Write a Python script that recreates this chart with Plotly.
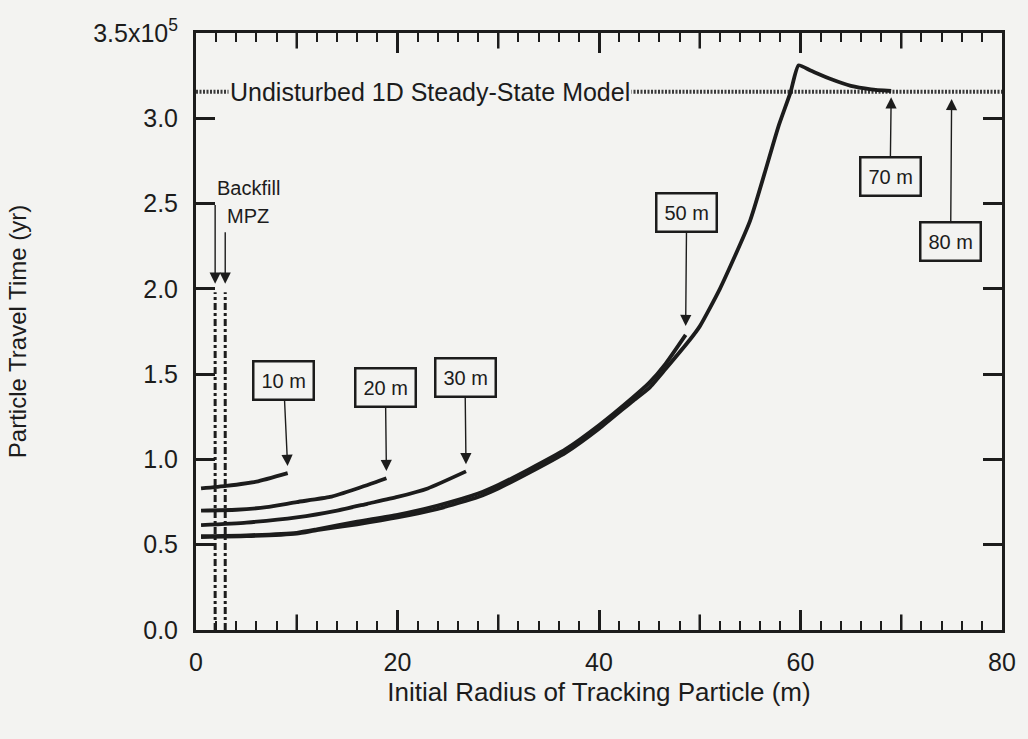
import plotly.graph_objects as go

# ---------------- data (travel time in units of 1e5 yr) ----------------
x_10m = [0.5, 3, 6, 9.1]
y_10m = [0.83, 0.845, 0.87, 0.92]

x_20m = [0.5, 4, 7, 10, 13.3, 16, 18.9]
y_20m = [0.70, 0.705, 0.72, 0.75, 0.78, 0.83, 0.89]

x_30m = [0.5, 5, 10, 14, 17, 20, 23, 26.8]
y_30m = [0.615, 0.63, 0.66, 0.70, 0.74, 0.78, 0.83, 0.93]

x_50m = [0.5, 5, 10, 12, 16, 20, 24, 28, 30, 33, 36.7, 40, 43.3, 45, 46.6, 48.6]
y_50m = [0.55, 0.555, 0.57, 0.59, 0.635, 0.675, 0.73, 0.80, 0.85, 0.94, 1.06,
         1.20, 1.36, 1.45, 1.56, 1.73]

x_70m = [0.5, 5, 10, 12, 16, 20, 24, 28, 30, 33, 36.7, 40, 43.3, 45, 46.6, 49,
         50, 52, 55, 57.8, 59, 59.8, 61, 63, 65, 67, 69]
y_70m = [0.545, 0.55, 0.565, 0.585, 0.62, 0.66, 0.71, 0.78, 0.83, 0.92, 1.04,
         1.18, 1.34, 1.42, 1.53, 1.70, 1.78, 2.0, 2.40, 2.95, 3.15, 3.31, 3.28,
         3.23, 3.19, 3.17, 3.16]

undisturbed_x = [0, 80]
undisturbed_y = 3.155

backfill_x = 1.9
mpz_x = 2.9
zone_top = 1.98
backfill_arrow_top = 2.5
mpz_arrow_top = 2.34
arrow_tip = 2.03

y_tickvals = [0, 0.5, 1.0, 1.5, 2.0, 2.5, 3.0, 3.5]
y_ticktext = ["0.0", "0.5", "1.0", "1.5", "2.0", "2.5", "3.0", "3.5x10<sup>5</sup>"]
x_tickvals = [0, 20, 40, 60, 80]
x_ticktext = ["0", "20", "40", "60", "80"]

# ---------------- style ----------------
INK = "#1c1c1c"
BG = "#f3f3f1"
FONT = "Liberation Sans, Arial, sans-serif"

fig = go.Figure()

# zone boundaries (dash-dot verticals)
for xv in (backfill_x, mpz_x):
    fig.add_trace(go.Scatter(x=[xv, xv], y=[0, zone_top], mode="lines",
                             line=dict(color=INK, width=3, dash="7px,3px,3px,3px"),
                             hoverinfo="skip", showlegend=False))

# undisturbed model line
fig.add_trace(go.Scatter(x=undisturbed_x, y=[undisturbed_y] * 2, mode="lines",
                         line=dict(color="#3a3a3a", width=4, dash="2px,1.5px"),
                         showlegend=False))

curves = [(x_10m, y_10m), (x_20m, y_20m), (x_30m, y_30m), (x_50m, y_50m), (x_70m, y_70m)]
for xs, ys in curves:
    fig.add_trace(go.Scatter(x=xs, y=ys, mode="lines",
                             line=dict(color=INK, width=3.8, shape="spline", smoothing=0.5),
                             showlegend=False))

annotations = []

def boxed(label, tipx, tipy, boxx, boxy):
    annotations.append(dict(
        x=tipx, y=tipy, xref="x", yref="y", ax=boxx, ay=boxy, axref="x", ayref="y",
        text=label, showarrow=True, arrowhead=2, arrowsize=1.6, arrowwidth=1.4,
        arrowcolor=INK, standoff=2,
        font=dict(family=FONT, size=20, color=INK),
        bordercolor=INK, borderwidth=2.5, borderpad=7, bgcolor=BG))

boxed("10 m", x_10m[-1], y_10m[-1] + 0.03, 8.7, 1.46)
boxed("20 m", x_20m[-1], y_20m[-1] + 0.03, 18.8, 1.42)
boxed("30 m", x_30m[-1], y_30m[-1] + 0.03, 26.7, 1.48)
boxed("50 m", x_50m[-1], y_50m[-1] + 0.04, 48.7, 2.45)
boxed("70 m", x_70m[-1], undisturbed_y - 0.02, 68.9, 2.66)
boxed("80 m", 75, undisturbed_y - 0.03, 74.9, 2.28)

# Backfill / MPZ arrows
for xv, top in ((backfill_x, backfill_arrow_top), (mpz_x, mpz_arrow_top)):
    annotations.append(dict(x=xv, y=arrow_tip, ax=xv, ay=top,
                            xref="x", yref="y", axref="x", ayref="y", text="",
                            showarrow=True, arrowhead=2, arrowsize=1.6, arrowwidth=1.4,
                            arrowcolor=INK))

annotations.append(dict(x=backfill_x, y=2.59, xref="x", yref="y", text="Backfill",
                        showarrow=False, xanchor="left", yanchor="middle",
                        font=dict(family=FONT, size=20, color=INK)))
annotations.append(dict(x=mpz_x, y=2.43, xref="x", yref="y", text="MPZ",
                        showarrow=False, xanchor="left", yanchor="middle",
                        font=dict(family=FONT, size=20, color=INK)))

# undisturbed label
annotations.append(dict(x=3.2, y=undisturbed_y, xref="x", yref="y",
                        text="Undisturbed 1D Steady-State Model", showarrow=False,
                        xanchor="left", yanchor="middle", bgcolor=BG, borderpad=1,
                        font=dict(family=FONT, size=25, color=INK)))

# medium ticks at odd multiples of 10 (bottom and top)
shapes = []
for xv in (10, 30, 50, 70):
    shapes.append(dict(type="line", xref="x", yref="y domain", x0=xv, x1=xv, y0=0, y1=0.026,
                       line=dict(color=INK, width=2.5)))
    shapes.append(dict(type="line", xref="x", yref="y domain", x0=xv, x1=xv, y0=1, y1=0.974,
                       line=dict(color=INK, width=2.5)))

fig.update_layout(
    width=1028, height=739, autosize=False,
    margin=dict(l=196, r=23, t=33, b=109),
    paper_bgcolor=BG, plot_bgcolor=BG,
    font=dict(family=FONT, size=25, color=INK),
    annotations=annotations, shapes=shapes, showlegend=False,
)
fig.update_xaxes(range=[0, 80], tickvals=x_tickvals, ticktext=x_ticktext,
                 title=dict(text="Initial Radius of Tracking Particle (m)",
                            font=dict(family=FONT, size=26, color=INK), standoff=8),
                 showgrid=False, zeroline=False, showline=True, linecolor=INK, linewidth=3,
                 mirror="ticks", ticks="inside", ticklen=20, tickwidth=2.5, tickcolor=INK,
                 tickfont=dict(size=25), ticklabelstandoff=8,
                 minor=dict(dtick=2, tick0=0, ticks="inside", ticklen=9, tickwidth=2,
                            tickcolor=INK, showgrid=False))
fig.update_yaxes(range=[0, 3.5], tickvals=y_tickvals, ticktext=y_ticktext,
                 title=dict(text="Particle Travel Time (yr)",
                            font=dict(family=FONT, size=24, color=INK), standoff=60),
                 showgrid=False, zeroline=False, showline=True, linecolor=INK, linewidth=3,
                 mirror="ticks", ticks="inside", ticklen=19, tickwidth=2.5, tickcolor=INK,
                 tickfont=dict(size=25), ticklabelstandoff=10)

fig.write_html("out.html", config={"displayModeBar": False},
               post_script="document.body.style.margin='0';document.body.style.background='%s';" % BG)
